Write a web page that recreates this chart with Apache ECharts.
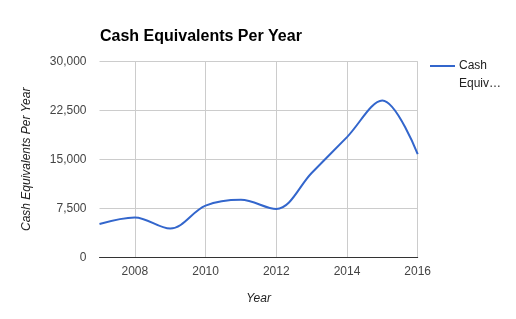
<!DOCTYPE html>
<html><head><meta charset="utf-8">
<script src="https://cdn.jsdelivr.net/npm/echarts@6/dist/echarts.min.js"></script>
<style>html,body{margin:0;padding:0;background:#fff}#c{width:516px;height:319px}</style>
</head><body><div id="c"></div>
<script>
var years = ['2007','2008','2009','2010','2011','2012','2013','2014','2015','2016'];
var cashEquivalents = [5100, 6100, 4400, 7900, 8800, 7400, 12900, 18400, 24000, 15800];
var yTicks = [0, 7500, 15000, 22500, 30000];
var seriesName = 'Cash Equivalents Per Year';

var chart = echarts.init(document.getElementById('c'), null, {renderer: 'canvas'});
var font = 'Liberation Sans, Arial, sans-serif';
chart.setOption({
  animation: false,
  backgroundColor: '#fff',
  title: {
    text: 'Cash Equivalents Per Year',
    left: 95, top: 24,
    textStyle: {fontFamily: font, fontSize: 16, fontWeight: 'bold', color: '#000'}
  },
  legend: {
    left: 430, top: 60, padding: 0,
    icon: 'rect', itemWidth: 25, itemHeight: 2,
    formatter: function () { return 'Cash'; },
    textStyle: {fontFamily: font, fontSize: 12, color: '#222', padding: [0, 0, 0, -1]},
    data: [seriesName]
  },
  graphic: [{
    type: 'text', left: 459, top: 78,
    style: {text: 'Equiv…', font: '12px ' + font, fill: '#222'}
  }],
  grid: {left: 99.5, right: 98.3, top: 61.3, bottom: 61.7, containLabel: false},
  xAxis: {
    type: 'category', data: years, boundaryGap: false,
    name: 'Year', nameLocation: 'middle', nameGap: 35,
    nameTextStyle: {fontFamily: font, fontSize: 12, fontStyle: 'italic', color: '#222'},
    axisLine: {show: true, lineStyle: {color: '#333', width: 1}},
    axisTick: {show: false},
    axisLabel: {
      interval: function (i, v) { return Number(v) % 2 === 0; },
      fontFamily: font, fontSize: 12, color: '#444', margin: 8
    },
    splitLine: {
      show: true,
      interval: function (i, v) { return Number(v) % 2 === 0; },
      lineStyle: {color: '#ccc', width: 1}
    }
  },
  yAxis: {
    type: 'value', min: yTicks[0], max: yTicks[yTicks.length - 1], interval: yTicks[1] - yTicks[0],
    name: 'Cash Equivalents Per Year', nameLocation: 'middle', nameGap: 67,
    nameTextStyle: {fontFamily: font, fontSize: 12, fontStyle: 'italic', color: '#222'},
    axisLine: {show: false}, axisTick: {show: false},
    axisLabel: {
      fontFamily: font, fontSize: 12, color: '#444', margin: 13,
      formatter: function (v) { return v.toLocaleString('en-US'); }
    },
    splitLine: {lineStyle: {color: '#ccc', width: 1}}
  },
  series: [{
    name: seriesName, type: 'line', data: cashEquivalents,
    smooth: 0.35, showSymbol: false, symbol: 'none',
    lineStyle: {color: '#3366cc', width: 2},
    itemStyle: {color: '#3366cc'}
  }]
});
</script></body></html>
